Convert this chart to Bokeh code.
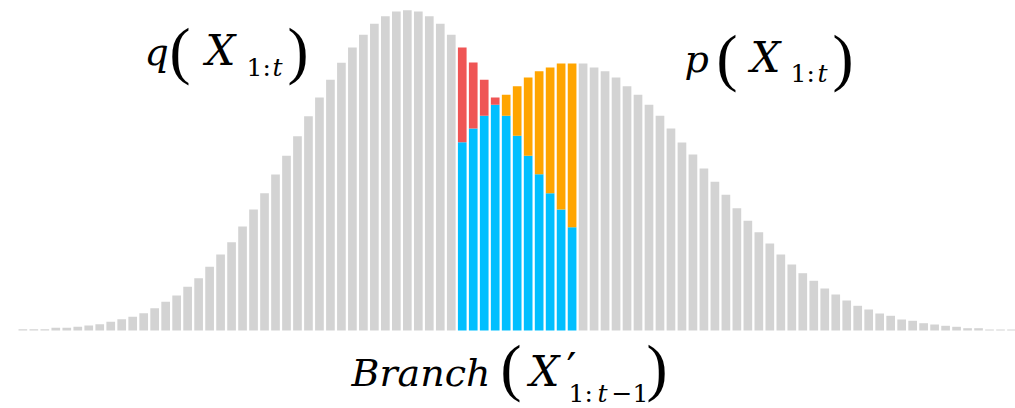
from bokeh.plotting import figure
from bokeh.models import Range1d, Label
from bokeh.embed import file_html
from bokeh.resources import INLINE

# ---- data (bar heights, arbitrary density units) ----
# q(X_1:t): bins 0..50
q_vals = [1.3, 1.3, 1.3, 2.7, 2.7, 3.7, 5.0, 6.3, 8.7, 11.3,
          13.7, 17.3, 22.3, 28.7, 35.0, 43.7, 52.3, 63.7, 76.0, 88.3,
          104.0, 121.0, 137.3, 156.0, 174.7, 194.3, 214.3, 233.0, 250.7, 267.7,
          283.0, 295.7, 306.7, 314.3, 319.0, 320.3, 319.0, 314.3, 306.7, 295.7,
          283.0, 268.0, 250.7, 233.0, 214.7, 194.7, 174.7, 156.3, 137.3, 121.0,
          103.3]
q_start = 0
# p(X_1:t): bins 40..90
p_vals = [188.3, 202.0, 214.7, 225.7, 235.7, 244.3, 253.0, 259.3, 263.0, 267.0,
          267.0, 267.0, 263.0, 259.3, 253.0, 244.3, 235.7, 225.7, 214.7, 202.0,
          188.0, 176.0, 162.0, 148.7, 135.7, 122.3, 109.7, 98.3, 87.0, 76.0,
          66.0, 57.3, 49.7, 42.0, 36.0, 30.0, 24.7, 21.0, 17.0, 14.7,
          11.0, 9.7, 7.3, 6.0, 4.7, 3.7, 2.3, 2.3, 1.0, 1.0,
          1.0]
p_start = 40
# Branch(X'_1:t-1) region: bins 40..50
branch_bins = list(range(40, 51))

q = {q_start + i: v for i, v in enumerate(q_vals)}
pp = {p_start + i: v for i, v in enumerate(p_vals)}
n_bins = p_start + len(p_vals)

gray_x, gray_top = [], []
for b in range(n_bins):
    if b in branch_bins:
        continue
    gray_x.append(b)
    gray_top.append(q[b] if b < branch_bins[0] else pp[b])

blue_top, red_bot, red_top, org_bot, org_top = [], [], [], [], []
for b in branch_bins:
    lo = min(q[b], pp[b])
    blue_top.append(lo)
    red_bot.append(lo); red_top.append(q[b] if q[b] > pp[b] else lo)
    org_bot.append(lo); org_top.append(pp[b] if pp[b] > q[b] else lo)

W, H = 1015, 408
pitch = 10.985
x0 = 22.35
base = 330
p = figure(width=W, height=H, output_backend="svg", toolbar_location=None,
           x_range=Range1d(-x0 / pitch, (W - x0) / pitch),
           y_range=Range1d(-(H - base), base),
           min_border=0, outline_line_color=None)
p.axis.visible = False
p.grid.visible = False
p.background_fill_color = "white"
p.border_fill_color = "white"

bw = 0.79
p.vbar(x=gray_x, top=gray_top, bottom=0, width=bw, color="#d3d3d3", line_color=None)
p.vbar(x=branch_bins, top=blue_top, bottom=0, width=bw, color="#00bfff", line_color=None)
p.vbar(x=branch_bins, top=red_top, bottom=red_bot, width=bw, color="#ef5555", line_color=None)
p.vbar(x=branch_bins, top=org_top, bottom=org_bot, width=bw, color="#ffa500", line_color=None)

FONT = "DejaVu Serif"
PFONT = "Liberation Serif"
MAIN, BIGX, SUB, PAR = 38, 42, 25, 63
OFF = 0.37  # renderer places the anchor ~0.37em above the alphabetic baseline


def txt(s, sx, sy, size, style="italic", font=FONT):
    # sx, sy: page pixel position (left, baseline)
    p.add_layout(Label(x=sx, y=H - sy + OFF * size, x_units="screen", y_units="screen",
                       text=s, text_font=font, text_font_size=f"{size}px",
                       text_font_style=style, text_color="black",
                       text_baseline="alphabetic", text_align="left"))


# q(X_{1:t})
bq, sq, pq = 65.5, 76.5, 73.5
txt("q", 144, bq, MAIN)
txt("(", 169, pq, PAR, "normal", PFONT)
txt("X", 205, bq, BIGX)
txt("1:", 246, sq, SUB, "normal")
txt("t", 272, sq, SUB)
txt(")", 287, pq, PAR, "normal", PFONT)

# p(X_{1:t})
bp, sp, ppar = 73, 82.5, 81
txt("p", 684, bp, MAIN)
txt("(", 716, ppar, PAR, "normal", PFONT)
txt("X", 750, bp, BIGX)
txt("1:", 790, sp, SUB, "normal")
txt("t", 817, sp, SUB)
txt(")", 832, ppar, PAR, "normal", PFONT)

# Branch(X'_{1:t-1})  (lifted slightly so the subscript stays inside)
bb, sb, pb = 387, 402, 391
txt("Branch", 351, bb, MAIN)
txt("(", 500, pb, PAR, "normal", PFONT)
txt("X", 529, bb, BIGX)
txt("\u2032", 566, bb - 2, 44, "normal")
txt("1:", 568, sb, SUB, "normal")
txt("t", 597, sb, SUB)
txt("\u22121", 611, sb, SUB, "normal")
txt(")", 646, pb, PAR, "normal", PFONT)

open("out.html", "w").write(file_html(p, INLINE))
